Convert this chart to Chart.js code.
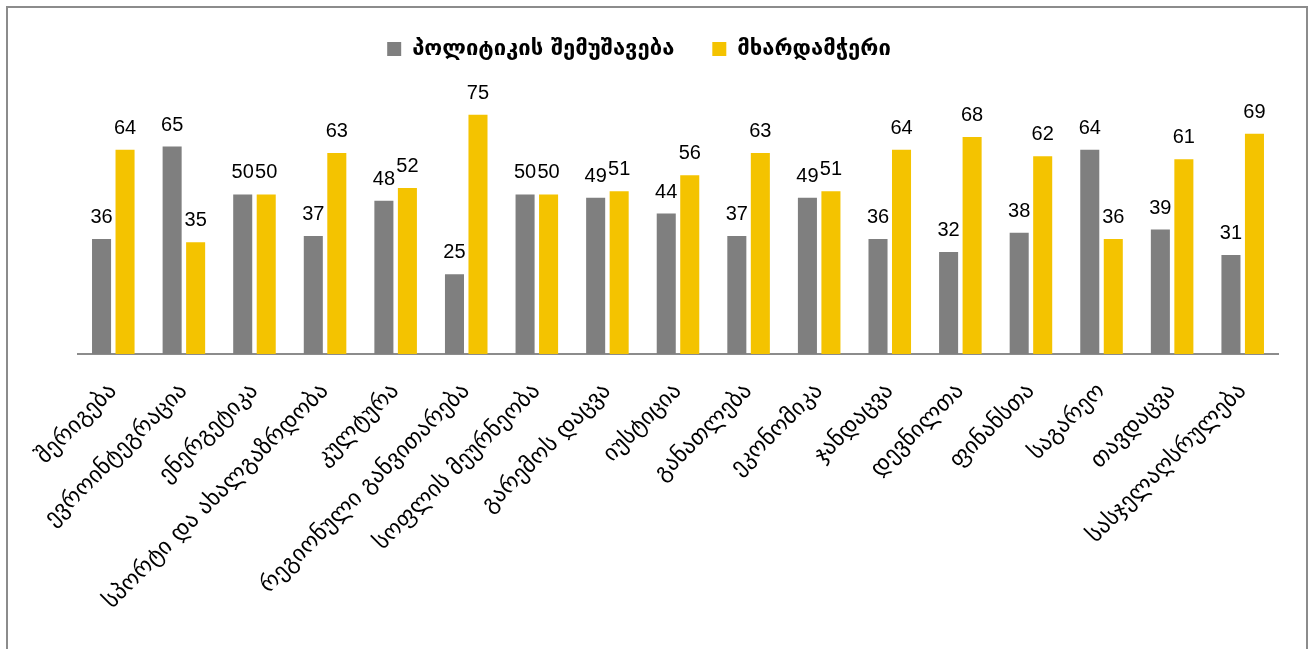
<!DOCTYPE html>
<html>
<head>
    <title>Ministries chart</title>
    <script src="https://cdn.jsdelivr.net/npm/chart.js"></script>
    <style>
        body { margin: 0; background: #fff; }
        .frame {
            position: absolute; left: 6px; top: 6px; width: 1298px; height: 700px;
            border: 2px solid #8c8c8c; border-bottom: none;
        }
        .holder { position: absolute; left: 0; top: 0; width: 1309px; height: 649px; }
    </style>
</head>
<body>
    <div class="frame"></div>
    <div class="holder"><canvas id="myChart"></canvas></div>

    <script>
      const categories = [
        "შერიგება", "ევროინტეგრაცია", "ენერგეტიკა", "სპორტი და ახალგაზრდობა",
        "კულტურა", "რეგიონული განვითარება", "სოფლის მეურნეობა", "გარემოს დაცვა",
        "იუსტიცია", "განათლება", "ეკონომიკა", "ჯანდაცვა", "დევნილთა",
        "ფინანსთა", "საგარეო", "თავდაცვა", "სასჯელაღსრულება"
      ];
      const seriesNames = ["პოლიტიკის შემუშავება", "მხარდამჭერი"];
      const policyValues = [36, 65, 50, 37, 48, 25, 50, 49, 44, 37, 49, 36, 32, 38, 64, 39, 31];
      const supportValues = [64, 35, 50, 63, 52, 75, 50, 51, 56, 63, 51, 64, 68, 62, 36, 61, 69];

      // numbers above the bars
      const valueLabels = {
        id: "valueLabels",
        afterDatasetsDraw(chart) {
          const c = chart.ctx;
          c.save();
          c.font = "20px 'Liberation Sans', Arial, sans-serif";
          c.fillStyle = "#000";
          c.textAlign = "center";
          c.textBaseline = "alphabetic";
          chart.data.datasets.forEach((ds, i) => {
            chart.getDatasetMeta(i).data.forEach((bar, j) => {
              c.fillText(ds.data[j], bar.x, bar.y - 16);
            });
          });
          c.restore();
        }
      };

      const ctx = document.getElementById("myChart");
      const mychart = new Chart(ctx, {
        type: "bar",
        data: {
          labels: categories,
          datasets: [
            { label: seriesNames[0], data: policyValues, backgroundColor: "#7f7f7f" },
            { label: seriesNames[1], data: supportValues, backgroundColor: "#f4c300" }
          ]
        },
        options: {
          responsive: true,
          maintainAspectRatio: false,
          animation: false,
          categoryPercentage: 0.666,
          barPercentage: 0.81,
          layout: { padding: { left: 0, right: 31, top: 0, bottom: 0 } },
          plugins: {
            tooltip: { enabled: false },
            legend: {
              position: "top",
              labels: {
                color: "#000",
                boxWidth: 14,
                boxHeight: 14,
                padding: 38,
                font: { family: "'DejaVu Sans', sans-serif", size: 22, weight: "bold" }
              }
            }
          },
          scales: {
            x: {
              grid: { display: false },
              border: { display: true, color: "#8c8c8c", width: 2 },
              ticks: {
                color: "#000",
                minRotation: 45,
                maxRotation: 45,
                autoSkip: false,
                padding: 16,
                font: { family: "'DejaVu Sans', sans-serif", size: 23 }
              },
              afterFit(scale) { scale.height = 295; }
            },
            y: {
              min: 0,
              max: 89,
              grid: { display: false },
              border: { display: false },
              ticks: { display: false },
              afterFit(scale) { scale.width = 78; }
            }
          }
        },
        plugins: [valueLabels]
      });
    </script>
</body>
</html>
